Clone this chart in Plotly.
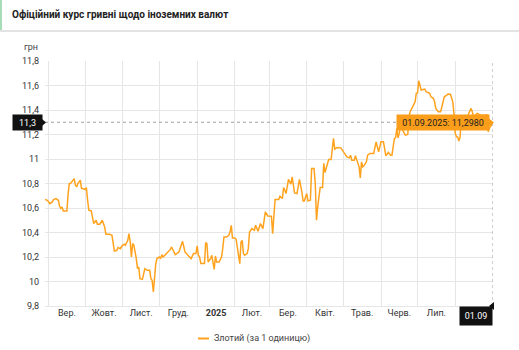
import plotly.graph_objects as go

# ---------------- data ----------------
dates = [
    "2024-08-29", "2024-08-31", "2024-09-02", "2024-09-04", "2024-09-05", "2024-09-07", "2024-09-09",
    "2024-09-10", "2024-09-11", "2024-09-12", "2024-09-13", "2024-09-16", "2024-09-17", "2024-09-18",
    "2024-09-19", "2024-09-21", "2024-09-22", "2024-09-23", "2024-09-24", "2024-09-25", "2024-09-27",
    "2024-09-28", "2024-09-29", "2024-10-01", "2024-10-02", "2024-10-03", "2024-10-04", "2024-10-06",
    "2024-10-07", "2024-10-08", "2024-10-10", "2024-10-11", "2024-10-13", "2024-10-15", "2024-10-16",
    "2024-10-17", "2024-10-18", "2024-10-21", "2024-10-23", "2024-10-24", "2024-10-25", "2024-10-27",
    "2024-10-28", "2024-10-30", "2024-10-31", "2024-11-02", "2024-11-03", "2024-11-05", "2024-11-06",
    "2024-11-07", "2024-11-08", "2024-11-09", "2024-11-10", "2024-11-12", "2024-11-13", "2024-11-14",
    "2024-11-15", "2024-11-17", "2024-11-19", "2024-11-21", "2024-11-23", "2024-11-24", "2024-11-25",
    "2024-11-26", "2024-11-28", "2024-11-29", "2024-12-01", "2024-12-02", "2024-12-03", "2024-12-04",
    "2024-12-06", "2024-12-08", "2024-12-10", "2024-12-11", "2024-12-13", "2024-12-14", "2024-12-17",
    "2024-12-19", "2024-12-20", "2024-12-22", "2024-12-23", "2024-12-25", "2024-12-27", "2024-12-29",
    "2024-12-31", "2025-01-01", "2025-01-02", "2025-01-03", "2025-01-04", "2025-01-07", "2025-01-08",
    "2025-01-09", "2025-01-10", "2025-01-12", "2025-01-13", "2025-01-14", "2025-01-15", "2025-01-16",
    "2025-01-17", "2025-01-19", "2025-01-21", "2025-01-22", "2025-01-23", "2025-01-25", "2025-01-27",
    "2025-01-28", "2025-01-29", "2025-01-30", "2025-02-01", "2025-02-02", "2025-02-04", "2025-02-05",
    "2025-02-06", "2025-02-07", "2025-02-08", "2025-02-09", "2025-02-11", "2025-02-12", "2025-02-13",
    "2025-02-15", "2025-02-17", "2025-02-18", "2025-02-20", "2025-02-21", "2025-02-22", "2025-02-24",
    "2025-02-25", "2025-02-26", "2025-02-28", "2025-03-02", "2025-03-03", "2025-03-04", "2025-03-06",
    "2025-03-09", "2025-03-10", "2025-03-12", "2025-03-13", "2025-03-14", "2025-03-15", "2025-03-17",
    "2025-03-19", "2025-03-20", "2025-03-21", "2025-03-22", "2025-03-24", "2025-03-26", "2025-03-28",
    "2025-03-29", "2025-03-30", "2025-04-01", "2025-04-02", "2025-04-04", "2025-04-05", "2025-04-07",
    "2025-04-08", "2025-04-09", "2025-04-10", "2025-04-12", "2025-04-14", "2025-04-15", "2025-04-16",
    "2025-04-18", "2025-04-19", "2025-04-21", "2025-04-23", "2025-04-24", "2025-04-26", "2025-04-29",
    "2025-05-01", "2025-05-03", "2025-05-04", "2025-05-06", "2025-05-07", "2025-05-08", "2025-05-10",
    "2025-05-11", "2025-05-12", "2025-05-14", "2025-05-15", "2025-05-16", "2025-05-17", "2025-05-18",
    "2025-05-20", "2025-05-21", "2025-05-23", "2025-05-26", "2025-05-28", "2025-05-29", "2025-05-30",
    "2025-06-01", "2025-06-03", "2025-06-05", "2025-06-07", "2025-06-09", "2025-06-10", "2025-06-12",
    "2025-06-13", "2025-06-14", "2025-06-15", "2025-06-16", "2025-06-17", "2025-06-18", "2025-06-20",
    "2025-06-21", "2025-06-23", "2025-06-24", "2025-06-25", "2025-06-27", "2025-06-29", "2025-06-30",
    "2025-07-01", "2025-07-02", "2025-07-04", "2025-07-07", "2025-07-08", "2025-07-11", "2025-07-12",
    "2025-07-14", "2025-07-15", "2025-07-16", "2025-07-18", "2025-07-20", "2025-07-22", "2025-07-23",
    "2025-07-25", "2025-07-26", "2025-07-28", "2025-07-30", "2025-07-31", "2025-08-01", "2025-08-02",
    "2025-08-03", "2025-08-04", "2025-08-05", "2025-08-06", "2025-08-07", "2025-08-09", "2025-08-11",
    "2025-08-12", "2025-08-14", "2025-08-15", "2025-08-16", "2025-08-19", "2025-08-22", "2025-08-25",
    "2025-08-27", "2025-08-28", "2025-08-29", "2025-09-01",
]
values = [
    10.669, 10.663, 10.636, 10.650, 10.669, 10.677, 10.663,
    10.614, 10.596, 10.609, 10.576, 10.576, 10.718, 10.800,
    10.800, 10.833, 10.840, 10.786, 10.772, 10.800, 10.827,
    10.759, 10.759, 10.751, 10.767, 10.663, 10.582, 10.576,
    10.533, 10.473, 10.500, 10.467, 10.467, 10.500, 10.473,
    10.445, 10.385, 10.385, 10.377, 10.310, 10.249, 10.255,
    10.277, 10.268, 10.287, 10.304, 10.296, 10.336, 10.391,
    10.323, 10.200, 10.310, 10.296, 10.187, 10.105, 10.118,
    10.023, 10.017, 10.105, 10.091, 10.091, 10.023, 10.010,
    9.914, 10.146, 10.187, 10.200, 10.190, 10.219, 10.200,
    10.219, 10.246, 10.262, 10.282, 10.241, 10.219, 10.241,
    10.310, 10.328, 10.241, 10.228, 10.208, 10.187, 10.228,
    10.228, 10.290, 10.214, 10.200, 10.146, 10.146, 10.318,
    10.310, 10.159, 10.187, 10.214, 10.159, 10.099, 10.208,
    10.159, 10.159, 10.200, 10.268, 10.363, 10.363, 10.377,
    10.404, 10.459, 10.356, 10.356, 10.345, 10.214, 10.146,
    10.323, 10.336, 10.228, 10.214, 10.228, 10.268, 10.404,
    10.432, 10.418, 10.459, 10.410, 10.445, 10.473, 10.432,
    10.514, 10.568, 10.535, 10.535, 10.533, 10.390, 10.669,
    10.669, 10.696, 10.677, 10.767, 10.745, 10.718, 10.833,
    10.794, 10.854, 10.786, 10.723, 10.718, 10.833, 10.731,
    10.658, 10.658, 10.718, 10.658, 10.663, 10.923, 10.923,
    10.800, 10.500, 10.609, 10.767, 10.767, 10.964, 10.890,
    10.977, 10.996, 10.996, 11.168, 11.080, 11.094, 11.091,
    11.058, 11.030, 11.017, 11.009, 11.031, 10.990, 10.990,
    11.026, 10.990, 10.936, 10.846, 10.977, 10.936, 10.944,
    10.977, 11.031, 11.045, 11.045, 11.140, 11.086, 11.058,
    11.140, 11.140, 11.026, 11.053, 11.031, 11.031, 11.168,
    11.173, 11.250, 11.173, 11.209, 11.277, 11.250, 11.209,
    11.195, 11.200, 11.350, 11.386, 11.426, 11.467, 11.536,
    11.540, 11.639, 11.563, 11.571, 11.549, 11.536, 11.508,
    11.495, 11.467, 11.413, 11.386, 11.386, 11.467, 11.508,
    11.522, 11.530, 11.528, 11.467, 11.358, 11.209, 11.181,
    11.180, 11.146, 11.180, 11.358, 11.320, 11.350, 11.340,
    11.370, 11.413, 11.386, 11.345, 11.372, 11.358, 11.358,
    11.360, 11.222, 11.250, 11.298,
]

month_starts = ["2024-09-01", "2024-10-01", "2024-11-01", "2024-12-01", "2025-01-01", "2025-02-01",
                "2025-03-01", "2025-04-01", "2025-05-01", "2025-06-01", "2025-07-01", "2025-08-01"]
# August label is hidden behind the "01.09" crosshair label in the reference
label_dates = ["2024-09-16", "2024-10-16 12:00", "2024-11-16", "2024-12-16 12:00", "2025-01-16 12:00",
               "2025-02-15", "2025-03-16 12:00", "2025-04-16", "2025-05-16 12:00", "2025-06-16",
               "2025-07-16 12:00"]
month_labels = ["Вер.", "Жовт.", "Лист.", "Груд.", "<b>2025</b>", "Лют.", "Бер.", "Квіт.", "Трав.",
                "Черв.", "Лип."]
y_ticks = [9.8, 10.0, 10.2, 10.4, 10.6, 10.8, 11.0, 11.2, 11.4, 11.6, 11.8]
y_labels = ["9,8", "10", "10,2", "10,4", "10,6", "10,8", "11", "11,2", "11,4", "11,6", "11,8"]

crosshair_value = 11.3
crosshair_label = "11,3"
last_date_label = "01.09"
tooltip_text = "01.09.2025: 11,2980"
series_name = "Злотий (за 1 одиницю)"
title_text = "Офіційний курс гривні щодо іноземних валют"
unit_text = "грн"

# ---------------- layout helpers ----------------
W, H = 519, 350
L, R, T, B = 45, 26, 61, 44
PW, PH = W - L - R, H - T - B


def px(X):
    return (X - L) / PW


def py(Y):
    return (H - B - Y) / PH


def tri(points):
    return "M " + " L ".join(f"{px(a):.5f},{py(b):.5f}" for a, b in points) + " Z"


LINE = "#FFA31F"
GRID = "#e6e6e6"
TXT = "#333333"
FONT = "Roboto"
TIP = "#F99D1A"

fig = go.Figure()
fig.add_trace(go.Scatter(x=dates, y=values, mode="lines", name=series_name,
                         line=dict(color=LINE, width=1.5), showlegend=False, hoverinfo="skip"))

x_range = [dates[0], dates[-1]]

fig.update_layout(
    width=W, height=H,
    margin=dict(l=L, r=R, t=T, b=B),
    paper_bgcolor="white", plot_bgcolor="white",
    font=dict(family=FONT, size=9, color=TXT),
    xaxis=dict(type="date", range=x_range, tickvals=month_starts, showticklabels=False,
               showgrid=True, gridcolor=GRID, gridwidth=1, zeroline=False,
               showline=True, linecolor=GRID, linewidth=1, fixedrange=True),
    xaxis2=dict(type="date", range=x_range, overlaying="x", side="bottom",
                tickvals=label_dates, ticktext=month_labels, showgrid=False, zeroline=False,
                showline=False, ticks="", tickfont=dict(size=9, color=TXT, family=FONT),
                fixedrange=True),
    yaxis=dict(range=[9.8, 11.8], tickvals=y_ticks, ticktext=y_labels, showgrid=True,
               gridcolor=GRID, gridwidth=1, zeroline=False, showline=False, ticks="",
               tickfont=dict(size=9, color=TXT, family=FONT), ticklabelstandoff=5,
               fixedrange=True),
)

# invisible trace to activate xaxis2 (month labels)
fig.add_trace(go.Scatter(x=[dates[0]], y=[values[0]], xaxis="x2", mode="markers",
                         marker=dict(opacity=0), showlegend=False, hoverinfo="skip"))

shapes = [
    # header separator & accent
    dict(type="line", xref="paper", yref="paper", x0=px(0), x1=px(W), y0=py(31), y1=py(31),
         line=dict(color="#e3e3e3", width=2)),
    dict(type="rect", xref="paper", yref="paper", x0=px(0), x1=px(2), y0=py(30), y1=py(0),
         fillcolor="#a6dcb8", line=dict(width=0)),
    # crosshairs
    dict(type="line", xref="paper", yref="y", x0=0, x1=1, y0=crosshair_value, y1=crosshair_value,
         line=dict(color="#a0a0a0", width=1, dash="dot")),
    dict(type="line", xref="x", yref="paper", x0=dates[-1], x1=dates[-1], y0=0, y1=1,
         line=dict(color="#a0a0a0", width=1, dash="dot")),
    # label pointers
    dict(type="path", xref="paper", yref="paper", path=tri([(42, 119), (46, 122.5), (42, 126)]),
         fillcolor="#111", line=dict(width=0)),
    dict(type="path", xref="paper", yref="paper", path=tri([(489, 118.5), (494, 122.5), (489, 126.5)]),
         fillcolor=TIP, line=dict(width=0)),
    dict(type="path", xref="paper", yref="paper", path=tri([(489, 306), (494, 302), (494, 310)]),
         fillcolor="#111", line=dict(width=0)),
    # legend swatch
    dict(type="line", xref="paper", yref="paper", x0=px(198), x1=px(209), y0=py(338.5), y1=py(338.5),
         line=dict(color=LINE, width=2)),
]
fig.update_layout(shapes=shapes)

annotations = [
    dict(text="<b>" + title_text + "</b>", xref="paper", yref="paper", x=px(10), y=py(15),
         xanchor="left", yanchor="middle", showarrow=False, font=dict(size=10, color="#222")),
    dict(text=unit_text, xref="paper", yref="paper", x=px(22), y=py(47),
         xanchor="left", yanchor="middle", showarrow=False, font=dict(size=9, color="#444")),
    dict(text=crosshair_label, xref="paper", yref="y", x=0, y=crosshair_value, xanchor="right",
         yanchor="middle", xshift=-2, showarrow=False, bgcolor="#111", borderpad=0,
         width=29, height=15, font=dict(size=9, color="white")),
    dict(text=last_date_label, xref="x", yref="paper", x=dates[-1], y=0, xanchor="right",
         yanchor="top", showarrow=False, bgcolor="#111", borderpad=0, width=32, height=18,
         font=dict(size=9, color="white")),
    dict(text=tooltip_text, xref="x", yref="y", x=dates[-1], y=values[-1], xanchor="right",
         yanchor="middle", xshift=-3, showarrow=False, bgcolor=TIP, borderpad=0,
         width=92, height=15, font=dict(size=9, color="#222")),
    dict(text=series_name, xref="paper", yref="paper", x=px(212), y=py(338.5), xanchor="left",
         yanchor="middle", showarrow=False, font=dict(size=9, color="#444")),
]
fig.update_layout(annotations=annotations)

fig.write_html("out.html")
